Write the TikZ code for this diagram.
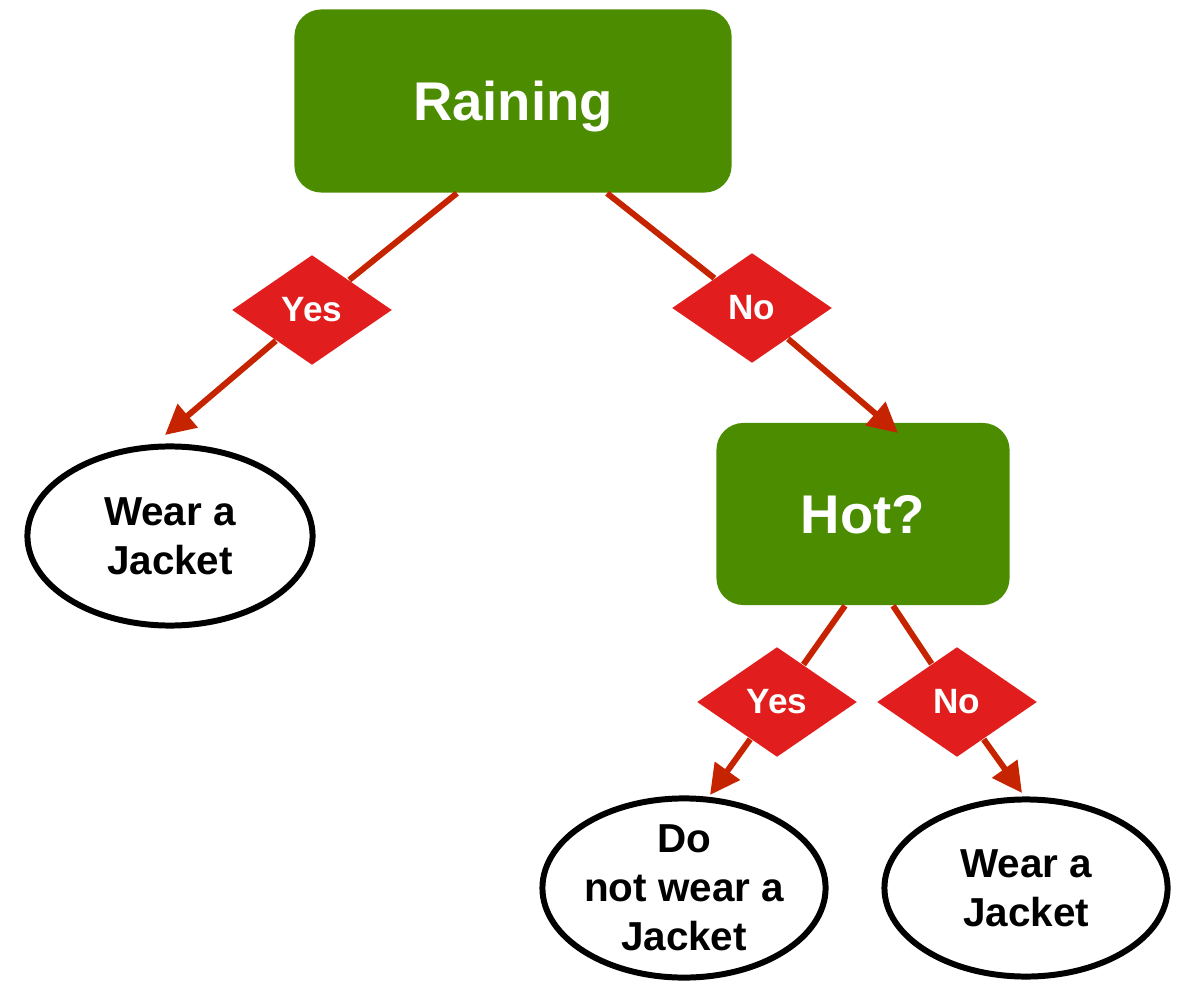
\documentclass[tikz,border=0pt]{standalone}
\usepackage{fontspec}
\setmainfont{Liberation Sans}
\usepackage{tikz}
\usetikzlibrary{shapes.geometric,arrows.meta}
\definecolor{testgreen}{HTML}{4B8C00}
\definecolor{tagred}{HTML}{E11D1D}
\definecolor{linkred}{HTML}{C62400}

\begin{document}
\begin{tikzpicture}[x=0.01cm,y=-0.01cm,
test/.style 2 args={rectangle,rounded corners=0.27cm,fill=testgreen,text=white,text depth=0pt,minimum width=#1cm,minimum height=#2cm,font=\fontsize{15.5}{18}\selectfont\bfseries},
tag/.style={diamond,aspect=1.45,fill=tagred,text=white,inner sep=0pt,minimum width=1.6cm,minimum height=1.1cm,font=\fontsize{10}{12}\selectfont\bfseries},
leaf/.style 2 args={ellipse,draw,line width=1.7pt,inner sep=0pt,align=center,minimum width=#1cm,minimum height=#2cm,font=\fontsize{11.5}{14}\selectfont\bfseries},
link/.style={draw=linkred,line width=1.7pt},
linkarr/.style={link,-{Triangle[length=8.5pt,width=8.5pt]}}]
\useasboundingbox (0,0) rectangle (1177,983);
\node[test={4.37}{1.83}] (rain) at (513,101) {Raining};
\node[test={2.93}{1.82}] (hot) at (863,514) {Hot?};
\node[tag] (yes1) at (312,310) {Yes};
\node[tag] (no1) at (752,308) {No};
\node[tag] (yes2) at (777,702) {Yes};
\node[tag] (no2) at (957,702) {No};
\node[leaf={2.85}{1.79}] (wear1) at (170,536) {Wear a\\Jacket};
\node[leaf={2.83}{1.77}] (dont) at (684,888) {Do\\not wear a\\Jacket};
\node[leaf={2.83}{1.77}] (wear2) at (1026,888) {Wear a\\Jacket};
\coordinate (t1) at (165,435);
\coordinate (t2) at (898,433);
\coordinate (t3) at (710,795);
\coordinate (t4) at (1022,793);
\draw[link] ([xshift=-0.56cm]rain.south) -- (yes1);
\draw[linkarr] (yes1) -- (t1);
\draw[link] ([xshift=0.94cm]rain.south) -- (no1);
\draw[linkarr] (no1) -- (t2);
\draw[link] ([xshift=-0.18cm]hot.south) -- (yes2);
\draw[linkarr] (yes2) -- (t3);
\draw[link] ([xshift=0.3cm]hot.south) -- (no2);
\draw[linkarr] (no2) -- (t4);
\end{tikzpicture}
\end{document}
